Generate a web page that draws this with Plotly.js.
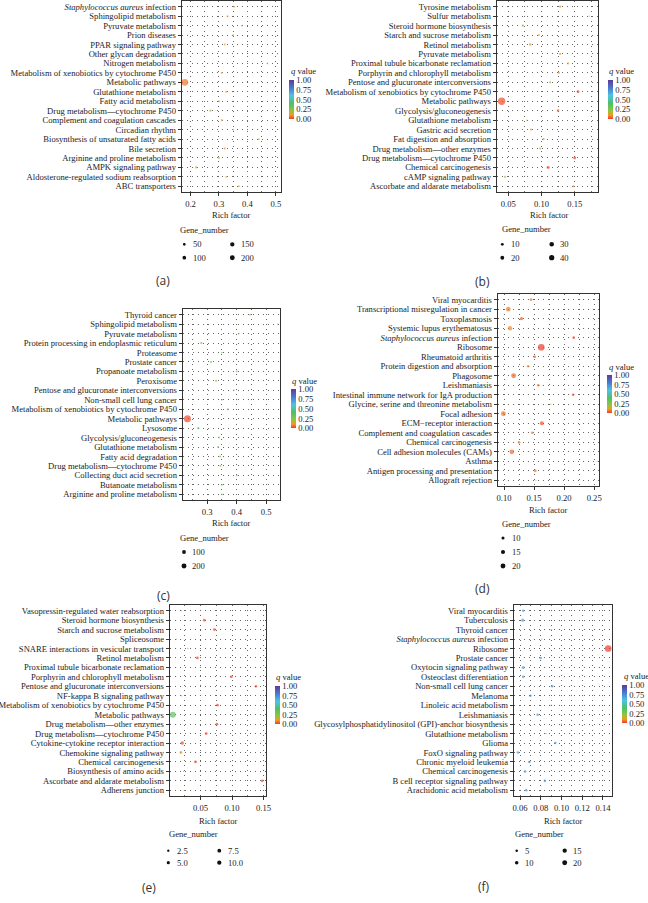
<!DOCTYPE html>
<html><head><meta charset="utf-8">
<script src="https://cdn.plot.ly/plotly-3.0.1.min.js"></script>
<style>html,body{margin:0;padding:0;background:#fff}#chart{width:648px;height:903px}</style>
</head><body><div id="chart"></div>
<script>
// ---------------- DATA (categories listed top to bottom) ----------------
const catsA = ["<i>Staphylococcus aureus</i> infection","Sphingolipid metabolism","Pyruvate metabolism","Prion diseases","PPAR signaling pathway","Other glycan degradation","Nitrogen metabolism","Metabolism of xenobiotics by cytochrome P450","Metabolic pathways","Glutathione metabolism","Fatty acid metabolism","Drug metabolism—cytochrome P450","Complement and coagulation cascades","Circadian rhythm","Biosynthesis of unsaturated fatty acids","Bile secretion","Arginine and proline metabolism","AMPK signaling pathway","Aldosterone-regulated sodium reabsorption","ABC transporters"];
const richA = [0.354,0.33,0.38,0.35,0.32,0.505,0.47,0.31,0.18,0.325,0.30,0.27,0.31,0.35,0.44,0.32,0.30,0.22,0.325,0.37];
const geneA = [6,8,7,7,9,5,6,10,215,9,8,11,10,6,7,9,8,12,7,8];
const qA = [0.12,0.1,0.15,0.12,0.1,0.2,0.15,0.12,0.06,0.1,0.15,0.2,0.12,0.15,0.15,0.08,0.2,0.2,0.12,0.15];
const ticksA = [0.2,0.3,0.4,0.5];
const tickTextA = ["0.2","0.3","0.4","0.5"];
const legendA = [50,100,150,200];
const legendTextA = ["50","100","150","200"];

const catsB = ["Tyrosine metabolism","Sulfur metabolism","Steroid hormone biosynthesis","Starch and sucrose metabolism","Retinol metabolism","Pyruvate metabolism","Proximal tubule bicarbonate reclamation","Porphyrin and chlorophyll metabolism","Pentose and glucuronate interconversions","Metabolism of xenobiotics by cytochrome P450","Metabolic pathways","Glycolysis/gluconeogenesis","Glutathione metabolism","Gastric acid secretion","Fat digestion and absorption","Drug metabolism—other enzymes","Drug metabolism—cytochrome P450","Chemical carcinogenesis","cAMP signaling pathway","Ascorbate and aldarate metabolism"];
const richB = [0.128,0.172,0.072,0.096,0.083,0.128,0.14,0.126,0.113,0.155,0.04,0.125,0.078,0.084,0.103,0.098,0.15,0.11,0.045,0.148];
const geneB = [4,3,4,4,5,4,4,4,4,6,44,5,3,4,4,4,6,6,4,4];
const qB = [0.1,0.2,0.15,0.1,0.1,0.12,0.12,0.08,0.15,0.01,0.02,0.05,0.15,0.12,0.15,0.15,0.01,0.01,0.2,0.08];
const ticksB = [0.05,0.10,0.15];
const tickTextB = ["0.05","0.10","0.15"];
const legendB = [10,20,30,40];
const legendTextB = ["10","20","30","40"];

const catsC = ["Thyroid cancer","Sphingolipid metabolism","Pyruvate metabolism","Protein processing in endoplasmic reticulum","Proteasome","Prostate cancer","Propanoate metabolism","Peroxisome","Pentose and glucuronate interconversions","Non-small cell lung cancer","Metabolism of xenobiotics by cytochrome P450","Metabolic pathways","Lysosome","Glycolysis/gluconeogenesis","Glutathione metabolism","Fatty acid degradation","Drug metabolism—cytochrome P450","Collecting duct acid secretion","Butanoate metabolism","Arginine and proline metabolism"];
const richC = [0.446,0.54,0.407,0.28,0.35,0.313,0.40,0.33,0.39,0.35,0.37,0.233,0.27,0.34,0.337,0.344,0.345,0.40,0.35,0.35];
const geneC = [6,5,7,12,6,9,6,9,7,6,8,230,10,9,8,7,8,6,6,7];
const qC = [0.3,0.02,0.3,0.3,0.35,0.3,0.35,0.25,0.35,0.4,0.3,0.01,0.35,0.25,0.3,0.3,0.25,0.35,0.35,0.3];
const ticksC = [0.3,0.4,0.5];
const tickTextC = ["0.3","0.4","0.5"];
const legendC = [100,200];
const legendTextC = ["100","200"];

const catsD = ["Viral myocarditis","Transcriptional misregulation in cancer","Toxoplasmosis","Systemic lupus erythematosus","<i>Staphylococcus aureus</i> infection","Ribosome","Rheumatoid arthritis","Protein digestion and absorption","Phagosome","Leishmaniasis","Intestinal immune network for IgA production","Glycine, serine and threonine metabolism","Focal adhesion","ECM−receptor interaction","Complement and coagulation cascades","Chemical carcinogenesis","Cell adhesion molecules (CAMs)","Asthma","Antigen processing and presentation","Allograft rejection"];
const richD = [0.145,0.107,0.129,0.11,0.216,0.162,0.151,0.14,0.116,0.157,0.215,0.178,0.099,0.163,0.147,0.125,0.113,0.255,0.152,0.153];
const geneD = [7,12,8,11,7,21,7,7,13,7,7,6,13,10,7,7,12,6,7,6];
const qD = [0.06,0.07,0.04,0.08,0.02,0.0,0.03,0.07,0.05,0.05,0.02,0.12,0.06,0.02,0.06,0.08,0.05,0.1,0.05,0.1];
const ticksD = [0.10,0.15,0.20,0.25];
const tickTextD = ["0.10","0.15","0.20","0.25"];
const legendD = [10,15,20];
const legendTextD = ["10","15","20"];

const catsE = ["Vasopressin-regulated water reabsorption","Steroid hormone biosynthesis","Starch and sucrose metabolism","Spliceosome","SNARE interactions in vesicular transport","Retinol metabolism","Proximal tubule bicarbonate reclamation","Porphyrin and chlorophyll metabolism","Pentose and glucuronate interconversions","NF-kappa B signaling pathway","Metabolism of xenobiotics by cytochrome P450","Metabolic pathways","Drug metabolism—other enzymes","Drug metabolism—cytochrome P450","Cytokine-cytokine receptor interaction","Chemokine signaling pathway","Chemical carcinogenesis","Biosynthesis of amino acids","Ascorbate and aldarate metabolism","Adherens junction"];
const richE = [0.02,0.056,0.072,0.012,0.03,0.045,0.05,0.099,0.138,0.02,0.077,0.006,0.076,0.059,0.021,0.019,0.042,0.023,0.148,0.024];
const geneE = [1,2,2,1,1,2,1,2,2,1,2,11,2,2,3,2,2,1,2,1];
const qE = [0.4,0.01,0.01,0.35,0.4,0.01,0.4,0.01,0.01,0.3,0.01,0.35,0.01,0.01,0.01,0.1,0.01,0.2,0.01,0.2];
const ticksE = [0.05,0.10,0.15];
const tickTextE = ["0.05","0.10","0.15"];
const legendE = [2.5,5.0,7.5,10.0];
const legendTextE = ["2.5","5.0","7.5","10.0"];

const catsF = ["Viral myocarditis","Tuberculosis","Thyroid cancer","<i>Staphylococcus aureus</i> infection","Ribosome","Prostate cancer","Oxytocin signaling pathway","Osteoclast differentiation","Non-small cell lung cancer","Melanoma","Linoleic acid metabolism","Leishmaniasis","Glycosylphosphatidylinositol (GPI)-anchor biosynthesis","Glutathione metabolism","Glioma","FoxO signaling pathway","Chronic myeloid leukemia","Chemical carcinogenesis","B cell receptor signaling pathway","Arachidonic acid metabolism"];
const richF = [0.063,0.0626,0.09,0.081,0.145,0.08,0.063,0.063,0.091,0.07,0.09,0.077,0.1,0.085,0.094,0.058,0.069,0.065,0.084,0.066];
const geneF = [3,4,2,2,21,3,4,3,3,3,2,3,2,2,3,3,3,3,3,3];
const qF = [0.7,0.7,0.75,0.75,0.0,0.72,0.7,0.7,0.75,0.72,0.78,0.72,0.8,0.78,0.75,0.72,0.75,0.72,0.75,0.75];
const ticksF = [0.06,0.08,0.10,0.12,0.14];
const tickTextF = ["0.06","0.08","0.10","0.12","0.14"];
const legendF = [5,10,15,20];
const legendTextF = ["5","10","15","20"];

const qTicks = [0,0.25,0.5,0.75,1];
const qTickText = ["0.00","0.25","0.50","0.75","1.00"];
const panelLetters = ["(a)","(b)","(c)","(d)","(e)","(f)"];

// ---------------- LAYOUT / STYLE ----------------
const W = 648, H = 903;
const X = p => p / W, Y = p => 1 - p / H;
const SERIF = '"Liberation Serif","Times New Roman",serif';
const SANS = '"Open Sans","DejaVu Sans",sans-serif';
const TXT = '#222';
const FS = 8.6, FSY = 8.6;
const colorscale = [[0,'#ee3a2c'],[0.1,'#f39a22'],[0.22,'#8cc63f'],[0.4,'#4dbf6a'],[0.6,'#4fc3e3'],[0.8,'#4a78cf'],[1,'#5c3b98']];
const GRID = {gridcolor:'#666', gridwidth:1, griddash:'1px,4px'};

const panels = [
  {cats:catsA, rich:richA, gene:geneA, q:qA, ticks:ticksA, tt:tickTextA, lg:legendA, lgt:legendTextA,
   box:[182,281,1,192], xr:[0.17,0.518], minor:[0.2,0.05], dmax:6.7,
   cb:[288.7,80,5,38.5], qt:[288.7,71.5], rf:[231.5,215], letter:[163,280],
   leg:{x:177.7,y:230,cols:[184.3,232.3],rows:[244.3,257.7]}},
  {cats:catsB, rich:richB, gene:geneB, q:qB, ticks:ticksB, tt:tickTextB, lg:legendB, lgt:legendTextB,
   box:[497,598,1,192], xr:[0.033,0.185], minor:[0.05,0.025], dmax:7.3,
   cb:[608,80,5,38.5], qt:[606.7,71], rf:[549.7,215], letter:[482,281],
   leg:{x:499.7,y:229.3,cols:[502.3,551.7],rows:[244.3,257.7]}},
  {cats:catsC, rich:richC, gene:geneC, q:qC, ticks:ticksC, tt:tickTextC, lg:legendC, lgt:legendTextC,
   box:[183,280,309,500], xr:[0.218,0.547], minor:[0.3,0.05], dmax:7,
   cb:[290.7,389.3,5,39.3], qt:[290,380.5], rf:[231.5,523], letter:[163,595],
   leg:{x:178,y:538,cols:[184],rows:[552,566]}},
  {cats:catsD, rich:richD, gene:geneD, q:qD, ticks:ticksD, tt:tickTextD, lg:legendD, lgt:legendTextD,
   box:[498,599,294,486], xr:[0.09,0.258], minor:[0.1,0.025], dmax:6.7,
   cb:[607.3,375.3,5,38], qt:[606.7,366.5], rf:[548.5,510], letter:[482,588],
   leg:{x:500,y:524,cols:[503],rows:[538,552,566]}},
  {cats:catsE, rich:richE, gene:geneE, q:qE, ticks:ticksE, tt:tickTextE, lg:legendE, lgt:legendTextE,
   box:[170,266,605,796], xr:[0.0015,0.154], minor:[0.05,0.025], dmax:6,
   cb:[275.3,686,5,38], qt:[274,677], rf:[218,821], letter:[149,887],
   leg:{x:166.7,y:834.3,cols:[168.3,219.3],rows:[850.7,862.7]}},
  {cats:catsF, rich:richF, gene:geneF, q:qF, ticks:ticksF, tt:tickTextF, lg:legendF, lgt:legendTextF,
   box:[514,612,605,796], xr:[0.0542,0.1487], minor:[0.06,0.01], dmax:6.7,
   cb:[621.7,685,5,38.3], qt:[621.7,675.5], rf:[563,821], letter:[484,886],
   leg:{x:513.3,y:834.3,cols:[516.7,564.7],rows:[850.7,862.7]}}
];

const DMIN = 1.3, KEY_SCALE = 0.75;
const traces = [];
const layout = {
  width: W, height: H, margin:{l:0,r:0,t:0,b:0},
  paper_bgcolor:'#fff', plot_bgcolor:'#fff', showlegend:false,
  font:{family:SERIF, size:FS, color:TXT},
  annotations:[], shapes:[]
};

panels.forEach((p, k) => {
  const i = k + 1, s = i === 1 ? '' : String(i);
  const vmin = Math.min(...p.gene), vmax = Math.max(...p.gene);
  const sz = v => DMIN + (p.dmax - DMIN) * Math.sqrt(Math.max(0, v - vmin) / (vmax - vmin));
  traces.push({
    type:'scatter', mode:'markers', x:p.rich, y:p.cats,
    xaxis:'x'+s, yaxis:'y'+s, cliponaxis:false, hoverinfo:'skip',
    marker:{size:p.gene.map(sz), color:p.q, coloraxis:'coloraxis'+s, line:{width:0}}
  });
  const [l, r, t, b] = p.box;
  layout['xaxis'+s] = Object.assign({
    domain:[X(l), X(r)], anchor:'y'+s, range:p.xr,
    tickmode:'array', tickvals:p.ticks, ticktext:p.tt,
    ticks:'outside', ticklen:3, tickwidth:1, tickcolor:'#333',
    showline:true, mirror:true, linecolor:'#333', linewidth:1.3,
    showgrid:true, zeroline:false, fixedrange:true,
    tickfont:{family:SERIF, size:FS, color:TXT},
    minor:Object.assign({tickmode:'linear', tick0:p.minor[0], dtick:p.minor[1], showgrid:true, ticks:''}, GRID)
  }, GRID);
  const n = p.cats.length;
  layout['yaxis'+s] = Object.assign({
    domain:[Y(b), Y(t)], anchor:'x'+s, type:'category',
    categoryorder:'array', categoryarray:p.cats, range:[n - 1 + 0.6, -0.6],
    tickmode:'array', tickvals:p.cats, ticktext:p.cats,
    ticks:'outside', ticklen:3, tickwidth:1, tickcolor:'#333',
    showline:true, mirror:true, linecolor:'#333', linewidth:1.3,
    showgrid:true, zeroline:false, fixedrange:true,
    tickfont:{family:SERIF, size:FSY, color:TXT}
  }, GRID);
  const [cx, cy, cw, ch] = p.cb;
  layout['coloraxis'+s] = {
    cmin:0, cmax:1, colorscale:colorscale,
    colorbar:{x:X(cx), xanchor:'left', y:Y(cy), yanchor:'top',
      len:ch, lenmode:'pixels', thickness:cw, thicknessmode:'pixels',
      xpad:0, ypad:0, outlinewidth:0, ticks:'',
      tickmode:'array', tickvals:qTicks, ticktext:qTickText,
      tickfont:{family:SERIF, size:FS, color:TXT}, title:{text:''}}
  };
  layout.annotations.push(
    {text:'<i>q</i> value', x:X(p.qt[0]), y:Y(p.qt[1]), xref:'paper', yref:'paper', xanchor:'left', yanchor:'middle', showarrow:false, font:{family:SERIF, size:FS, color:TXT}},
    {text:'Rich factor', x:X(p.rf[0]), y:Y(p.rf[1]), xref:'paper', yref:'paper', xanchor:'center', yanchor:'middle', showarrow:false, font:{family:SERIF, size:FS, color:TXT}},
    {text:'Gene_number', x:X(p.leg.x), y:Y(p.leg.y), xref:'paper', yref:'paper', xanchor:'left', yanchor:'middle', showarrow:false, font:{family:SERIF, size:FS, color:TXT}},
    {text:panelLetters[k], x:X(p.letter[0]), y:Y(p.letter[1]), xref:'paper', yref:'paper', xanchor:'center', yanchor:'middle', showarrow:false, font:{family:SANS, size:12, color:'#333'}}
  );
  const nr = p.leg.rows.length;
  p.lg.forEach((v, j) => {
    const dx = p.leg.cols[Math.floor(j / nr)], dy = p.leg.rows[j % nr];
    const rad = sz(v) * KEY_SCALE / 2;
    layout.shapes.push({type:'circle', xref:'paper', yref:'paper', xsizemode:'pixel', ysizemode:'pixel',
      xanchor:X(dx), yanchor:Y(dy), x0:-rad, x1:rad, y0:-rad, y1:rad, fillcolor:'#111', line:{width:0}});
    layout.annotations.push({text:p.lgt[j], x:X(dx + 6.5), y:Y(dy), xref:'paper', yref:'paper', xanchor:'left', yanchor:'middle', showarrow:false, font:{family:SERIF, size:FS, color:TXT}});
  });
});

Plotly.newPlot('chart', traces, layout, {staticPlot:true, displayModeBar:false});
</script>
</body></html>
